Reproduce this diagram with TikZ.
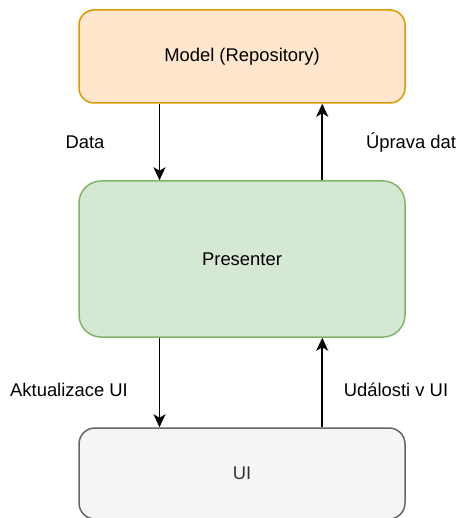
\documentclass[tikz,border=0pt]{standalone}
\usepackage{fontspec}
\setmainfont{Liberation Sans}
\usetikzlibrary{arrows.meta,calc}

\definecolor{modelfill}{HTML}{FFE6CC}
\definecolor{modeldraw}{HTML}{D79B00}
\definecolor{presfill}{HTML}{D5E8D4}
\definecolor{presdraw}{HTML}{82B366}
\definecolor{uifill}{HTML}{F5F5F5}
\definecolor{uidraw}{HTML}{666666}
\definecolor{uitext}{HTML}{333333}

\begin{document}
\begin{tikzpicture}[x=1pt,y=-1pt]
		\tikzstyle {block} = [rectangle, line width=1.5pt, minimum width=326pt, inner sep=0pt]
		\tikzstyle {flow} = [line width=1.6pt, -{Stealth[length=13pt,width=12pt,inset=3.5pt]}]
		\tikzstyle {caption} = [font=\fontsize{18.4}{21}\selectfont]

		\clip (0,0) rectangle (459,518);

		\node[block, caption, rounded corners=15pt, fill=modelfill, draw=modeldraw, minimum height=93pt] (model) at (242,56.5) {Model (Repository)};
		\node[block, caption, rounded corners=22pt, fill=presfill, draw=presdraw, minimum height=156pt] (pres) at (242,259) {Presenter};
		\node[block, caption, rounded corners=16pt, fill=uifill, draw=uidraw, text=uitext, minimum height=91pt] (ui) at (242,473.5) {UI};

		% model <-> presenter
		\draw[flow] ($(model.south west)!.248!(model.south east)$) -- ($(pres.north west)!.248!(pres.north east)$);
		\draw[flow] ($(pres.north west)!.745!(pres.north east)$) -- ($(model.south west)!.745!(model.south east)$);

		% presenter <-> ui
		\draw[flow] ($(pres.south west)!.248!(pres.south east)$) -- ($(ui.north west)!.248!(ui.north east)$);
		\draw[flow] ($(ui.north west)!.745!(ui.north east)$) -- ($(pres.south west)!.745!(pres.south east)$);

		\node[caption] (data) at (85,142) {Data};
		\node[caption] (uprava) at (411,142) {Úprava dat};
		\node[caption] (aktual) at (69,390) {Aktualizace UI};
		\node[caption] (udalosti) at (396,390) {Události v UI};
\end{tikzpicture}
\end{document}
